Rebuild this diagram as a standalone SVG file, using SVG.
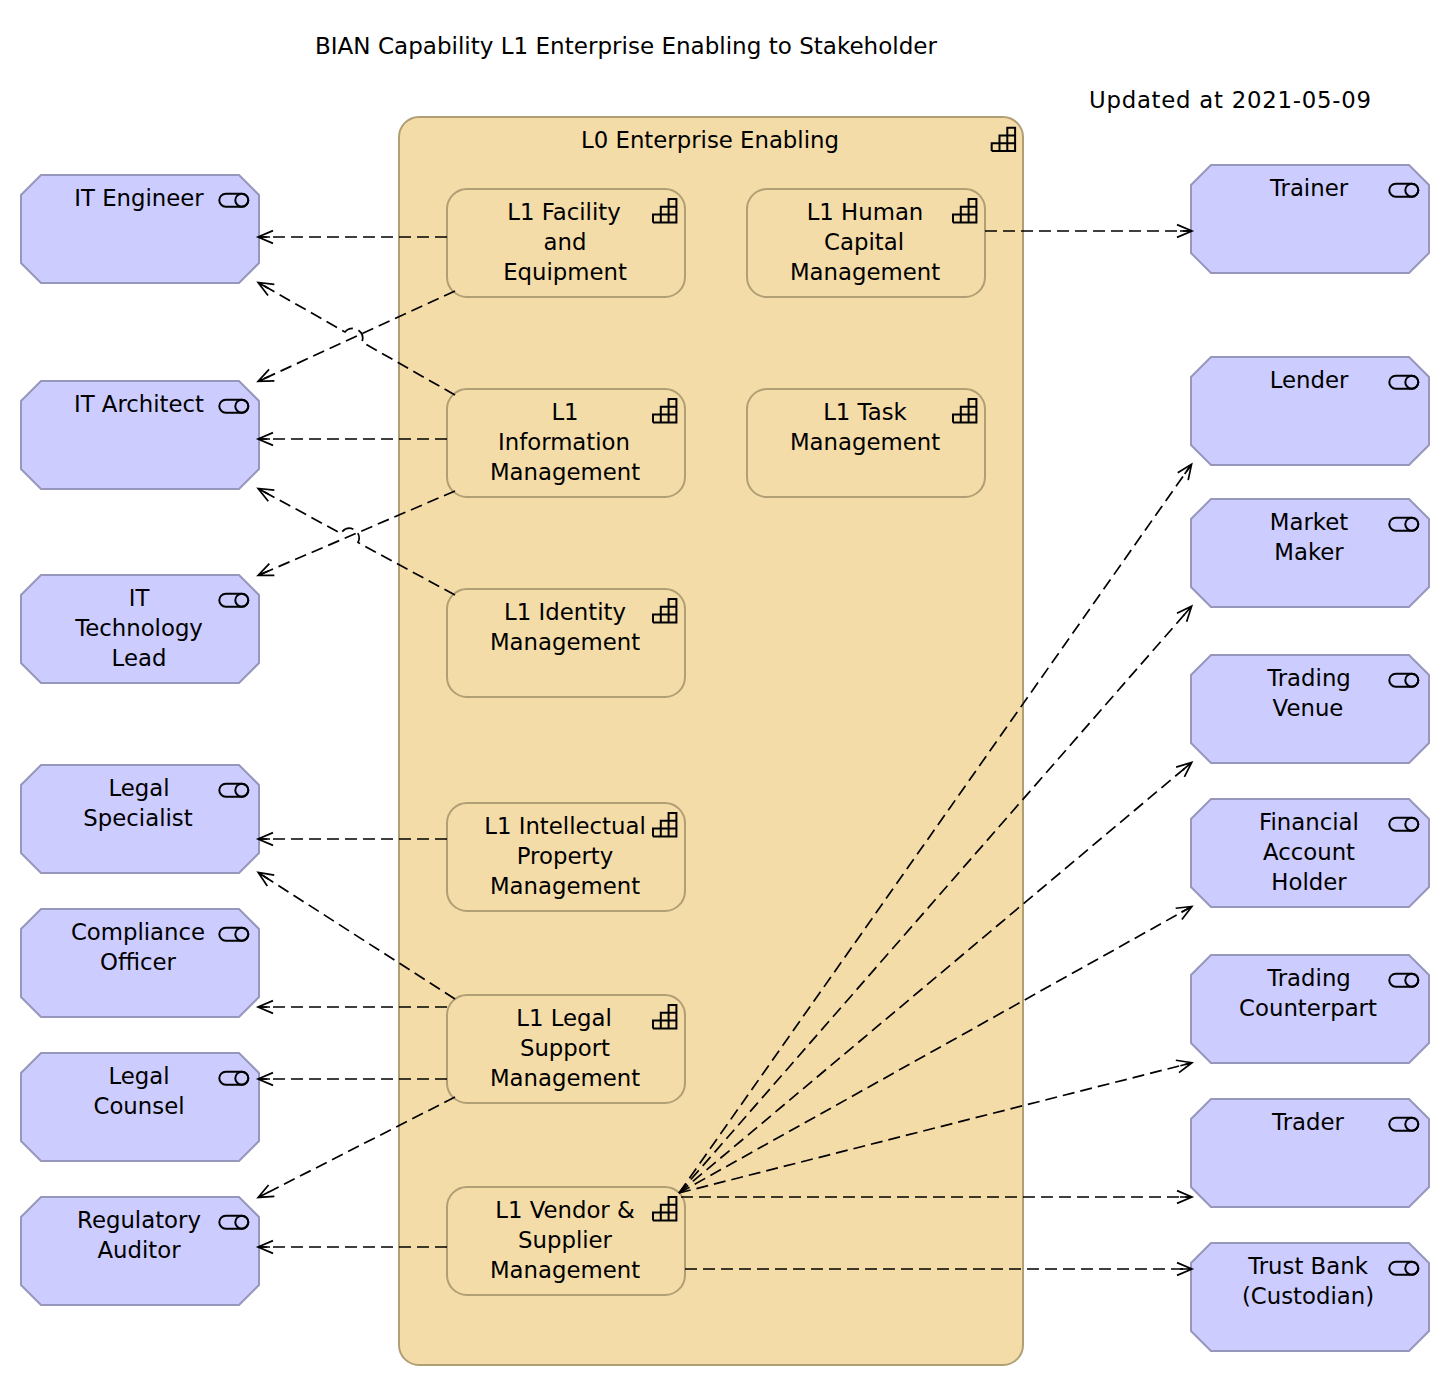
<svg xmlns="http://www.w3.org/2000/svg" width="1450" height="1386" viewBox="0 0 1450 1386">
<style>
text{font-family:"DejaVu Sans",sans-serif;font-size:22.8px;fill:#000;text-anchor:middle}
.free{text-anchor:start}
.cap{fill:#F4DCA8;stroke:#B09E74;stroke-width:2}
.act{fill:#CCCCFF;stroke:#9797BC;stroke-width:2}
.ico{fill:none;stroke:#000;stroke-width:2}
.c{fill:none;stroke:#000;stroke-width:1.7;stroke-dasharray:12 6;marker-end:url(#arr)}
</style>
<defs>
<marker id="arr" markerUnits="userSpaceOnUse" markerWidth="20" markerHeight="16" refX="15" refY="8" orient="auto"><path d="M1,1.6L16,8L1,14.4M4,8H16" fill="none" stroke="#000" stroke-width="1.7"/></marker>
<polygon id="oct" class="act" points="20,0 218,0 238,20 238,88 218,108 20,108 0,88 0,20"/>
<rect id="box" class="cap" width="238" height="108" rx="20"/>
<g id="pill" class="ico"><rect x="198.3" y="18.7" width="29" height="13" rx="6.5"/><circle cx="220.8" cy="25.2" r="6.5"/></g>
<path id="steps" class="ico" d="M0,23.4H23.4V0H15.6V23.4M0,23.4V15.6H23.4M7.8,23.4V7.8H23.4"/>
</defs>
<text class="free" x="315" y="54" textLength="622" lengthAdjust="spacingAndGlyphs">BIAN Capability L1 Enterprise Enabling to Stakeholder</text>
<text class="free" x="1089" y="108" textLength="282">Updated at 2021-05-09</text>
<g id="L0"><rect class="cap" x="399" y="117" width="624" height="1248" rx="20"/><text x="710" y="148">L0 Enterprise Enabling</text><use href="#steps" x="991.7" y="127.7"/></g>
<g id="facility" transform="translate(447,189)"><use href="#box"/><use href="#steps" x="206" y="10"/><text y="31"><tspan x="117">L1 Facility</tspan><tspan x="118" dy="30">and</tspan><tspan x="118" dy="30">Equipment</tspan></text></g>
<g id="human" transform="translate(747,189)"><use href="#box"/><use href="#steps" x="206" y="10"/><text y="31"><tspan x="118">L1 Human</tspan><tspan x="117" dy="30">Capital</tspan><tspan x="118" dy="30">Management</tspan></text></g>
<g id="information" transform="translate(447,389)"><use href="#box"/><use href="#steps" x="206" y="10"/><text y="31"><tspan x="118">L1</tspan><tspan x="117" dy="30">Information</tspan><tspan x="118" dy="30">Management</tspan></text></g>
<g id="task" transform="translate(747,389)"><use href="#box"/><use href="#steps" x="206" y="10"/><text y="31"><tspan x="118">L1 Task</tspan><tspan x="118" dy="30">Management</tspan></text></g>
<g id="identity" transform="translate(447,589)"><use href="#box"/><use href="#steps" x="206" y="10"/><text y="31"><tspan x="118">L1 Identity</tspan><tspan x="118" dy="30">Management</tspan></text></g>
<g id="intellectual" transform="translate(447,803)"><use href="#box"/><use href="#steps" x="206" y="10"/><text y="31"><tspan x="118">L1 Intellectual</tspan><tspan x="118" dy="30">Property</tspan><tspan x="118" dy="30">Management</tspan></text></g>
<g id="legal-support" transform="translate(447,995)"><use href="#box"/><use href="#steps" x="206" y="10"/><text y="31"><tspan x="117">L1 Legal</tspan><tspan x="118" dy="30">Support</tspan><tspan x="118" dy="30">Management</tspan></text></g>
<g id="vendor" transform="translate(447,1187)"><use href="#box"/><use href="#steps" x="206" y="10"/><text y="31"><tspan x="118">L1 Vendor &amp;</tspan><tspan x="118" dy="30">Supplier</tspan><tspan x="118" dy="30">Management</tspan></text></g>
<g id="it-engineer" transform="translate(21,175)"><use href="#oct"/><use href="#pill"/><text y="31"><tspan x="118">IT Engineer</tspan></text></g>
<g id="it-architect" transform="translate(21,381)"><use href="#oct"/><use href="#pill"/><text y="31"><tspan x="118">IT Architect</tspan></text></g>
<g id="it-tech-lead" transform="translate(21,575)"><use href="#oct"/><use href="#pill"/><text y="31"><tspan x="118">IT</tspan><tspan x="118" dy="30">Technology</tspan><tspan x="118" dy="30">Lead</tspan></text></g>
<g id="legal-specialist" transform="translate(21,765)"><use href="#oct"/><use href="#pill"/><text y="31"><tspan x="118">Legal</tspan><tspan x="117" dy="30">Specialist</tspan></text></g>
<g id="compliance" transform="translate(21,909)"><use href="#oct"/><use href="#pill"/><text y="31"><tspan x="117">Compliance</tspan><tspan x="117" dy="30">Officer</tspan></text></g>
<g id="legal-counsel" transform="translate(21,1053)"><use href="#oct"/><use href="#pill"/><text y="31"><tspan x="118">Legal</tspan><tspan x="118" dy="30">Counsel</tspan></text></g>
<g id="regulatory" transform="translate(21,1197)"><use href="#oct"/><use href="#pill"/><text y="31"><tspan x="118">Regulatory</tspan><tspan x="118" dy="30">Auditor</tspan></text></g>
<g id="trainer" transform="translate(1191,165)"><use href="#oct"/><use href="#pill"/><text y="31"><tspan x="118">Trainer</tspan></text></g>
<g id="lender" transform="translate(1191,357)"><use href="#oct"/><use href="#pill"/><text y="31"><tspan x="118">Lender</tspan></text></g>
<g id="market-maker" transform="translate(1191,499)"><use href="#oct"/><use href="#pill"/><text y="31"><tspan x="118">Market</tspan><tspan x="118" dy="30">Maker</tspan></text></g>
<g id="trading-venue" transform="translate(1191,655)"><use href="#oct"/><use href="#pill"/><text y="31"><tspan x="118">Trading</tspan><tspan x="117" dy="30">Venue</tspan></text></g>
<g id="account-holder" transform="translate(1191,799)"><use href="#oct"/><use href="#pill"/><text y="31"><tspan x="118">Financial</tspan><tspan x="118" dy="30">Account</tspan><tspan x="118" dy="30">Holder</tspan></text></g>
<g id="counterpart" transform="translate(1191,955)"><use href="#oct"/><use href="#pill"/><text y="31"><tspan x="118">Trading</tspan><tspan x="117" dy="30">Counterpart</tspan></text></g>
<g id="trader" transform="translate(1191,1099)"><use href="#oct"/><use href="#pill"/><text y="31"><tspan x="117">Trader</tspan></text></g>
<g id="trust-bank" transform="translate(1191,1243)"><use href="#oct"/><use href="#pill"/><text y="31"><tspan x="117">Trust Bank</tspan><tspan x="117" dy="30">(Custodian)</tspan></text></g>
<g id="connectors">
<path class="c" d="M447,237H259"/>
<path class="c" d="M455,291L259,381"/>
<path class="c" d="M455,395L362,342A10,10 0 0 0 345,332L259,283"/>
<path class="c" d="M447,439H259"/>
<path class="c" d="M455,491L259,575"/>
<path class="c" d="M455,595L358,542.5A9.6,9.6 0 0 0 341,533.5L259,489"/>
<path class="c" d="M447,839H259"/>
<path class="c" d="M455,999L259,873"/>
<path class="c" d="M447,1007H259"/>
<path class="c" d="M447,1079H259"/>
<path class="c" d="M455,1097L259,1197"/>
<path class="c" d="M447,1247H259"/>
<path class="c" d="M985,231H1191"/>
<path class="c" d="M685,1269H1191"/>
<path class="c" d="M679,1193L1191,465"/>
<path class="c" d="M679,1193L1191,607"/>
<path class="c" d="M679,1193L1191,763"/>
<path class="c" d="M679,1193L1191,907"/>
<path class="c" d="M679,1193L1191,1063"/>
<path class="c" d="M681,1197H1191"/>
</g>
</svg>
